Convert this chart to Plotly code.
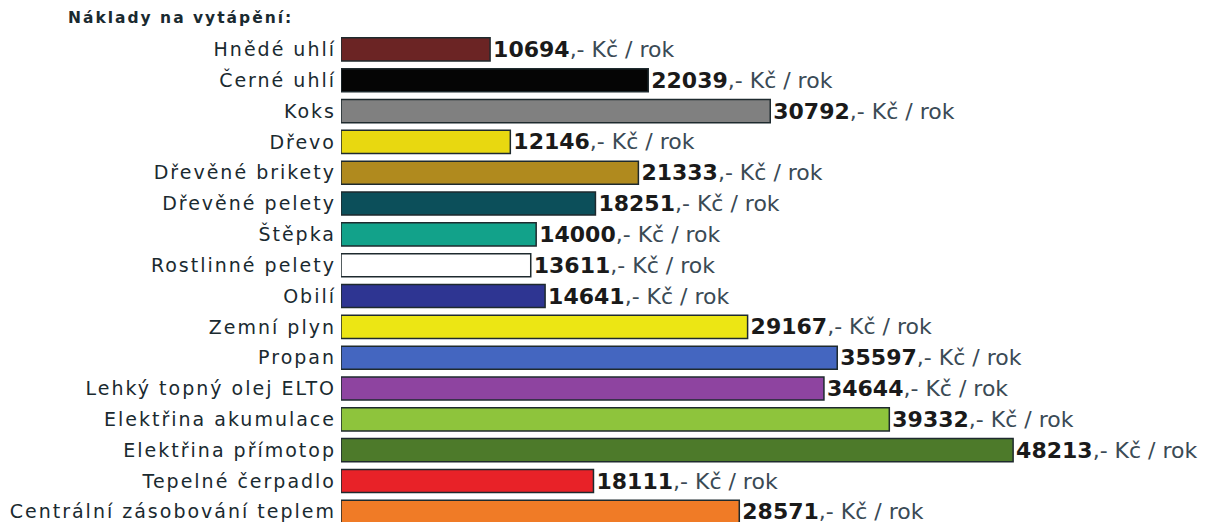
import plotly.graph_objects as go

categories = ["Hnědé uhlí", "Černé uhlí", "Koks", "Dřevo", "Dřevěné brikety",
              "Dřevěné pelety", "Štěpka", "Rostlinné pelety", "Obilí", "Zemní plyn",
              "Propan", "Lehký topný olej ELTO", "Elektřina akumulace",
              "Elektřina přímotop", "Tepelné čerpadlo", "Centrální zásobování teplem"]
values = [10694, 22039, 30792, 12146, 21333, 18251, 14000, 13611, 14641, 29167,
          35597, 34644, 39332, 48213, 18111, 28571]
colors = ["#6b2424", "#050505", "#808080", "#e8d810", "#b08a1e", "#0c4f5a",
          "#12a28a", "#ffffff", "#2e3592", "#ece614", "#4466c0", "#8e44a0",
          "#8ec43c", "#4d7a2a", "#e82228", "#f07b26"]
unit = ",- Kč / rok"
title = "Náklady na vytápění:"

labels = [f"<b>{v}</b><span style='color:#3a4a55'>{unit}</span>" for v in values]

# page body has an 8px margin: figure sized so it fills the 1212x522 window exactly
fig = go.Figure(go.Bar(
    x=values, y=categories, orientation="h",
    marker=dict(color=colors, line=dict(color="#1e2a2e", width=1.5)),
    text=labels, textposition="outside", cliponaxis=False,
    constraintext="none",
    textfont=dict(family="DejaVu Sans", size=22, color="#1a1a1a"),
    width=0.75, hoverinfo="skip",
))

fig.update_layout(
    width=1204, height=514,
    margin=dict(l=333, r=0, t=26, b=0),
    paper_bgcolor="white", plot_bgcolor="white",
    showlegend=False,
    title=dict(text=f"<b>{title}</b>", x=60/1204, xanchor="left",
               y=1 - 10/514, yanchor="middle", xref="container", yref="container",
               font=dict(family="DejaVu Sans", size=15.5, color="#1a2a30")),
    xaxis=dict(range=[0, 62480], visible=False, fixedrange=True),
    yaxis=dict(autorange=False, range=[15.33, -0.5], showgrid=False,
               zeroline=False, showline=False, ticks="",
               ticklabelstandoff=4, fixedrange=True,
               tickfont=dict(family="DejaVu Sans", size=19, color="#1a2a30")),
)

post = ("var s=document.createElement('style');"
        "s.textContent='.ytick text, .gtitle{letter-spacing:2px}';"
        "document.head.appendChild(s);")
fig.write_html("out.html", post_script=post)
